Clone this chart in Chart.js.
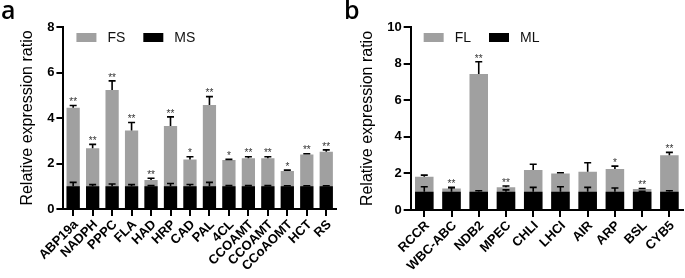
<!DOCTYPE html>
<html>
<head>
<meta charset="utf-8">
<script src="https://cdn.jsdelivr.net/npm/chart.js@4.4.0/dist/chart.umd.min.js"></script>
<style>
  body { margin: 0; width: 685px; height: 278px; background: #fff; position: relative; overflow: hidden; }
  .panel { position: absolute; top: 0; height: 278px; }
  #panelA { left: 0; width: 340px; }
  #panelB { left: 340px; width: 345px; }
  .tag { position: absolute; top: -8px; font-family: 'Open Sans', sans-serif; font-size: 25px; font-weight: 600; color: #000; }
</style>
</head>
<body>
<div class="panel" id="panelA"><canvas id="chartA" width="340" height="278"></canvas></div>
<div class="panel" id="panelB"><canvas id="chartB" width="345" height="278"></canvas></div>
<div class="tag" style="left:1px">a</div>
<div class="tag" style="left:344px">b</div>
<script>
// panel a
const genesA = ['ABP19a', 'NADPH', 'PPPC', 'FLA', 'HAD', 'HRP', 'CAD', 'PAL', '4CL', 'CCOAMT', 'CCOAMT', 'CCoAOMT', 'HCT', 'RS'];
const fsValues = [4.45, 2.67, 5.23, 3.45, 1.28, 3.65, 2.18, 4.57, 2.15, 2.23, 2.23, 1.67, 2.40, 2.52];
const fsErrors = [0.10, 0.17, 0.40, 0.35, 0.07, 0.40, 0.12, 0.37, 0.03, 0.07, 0.07, 0.04, 0.03, 0.08];
const msValues = [1, 1, 1, 1, 1, 1, 1, 1, 1, 1, 1, 1, 1, 1];
const msErrors = [0.17, 0.07, 0.10, 0.07, 0.03, 0.12, 0.08, 0.17, 0.03, 0.03, 0.03, 0.02, 0.02, 0.02];
const signifA = ['**', '**', '**', '**', '**', '**', '*', '**', '*', '**', '**', '*', '**', '**'];
const ticksA = { max: 8, step: 2 };

// panel b
const genesB = ['RCCR', 'WBC-ABC', 'NDB2', 'MPEC', 'CHLI', 'LHCI', 'AIR', 'ARP', 'BSL', 'CYB5'];
const flValues = [1.82, 1.18, 7.43, 1.24, 2.19, 2.00, 2.09, 2.24, 1.15, 3.00];
const flErrors = [0.09, 0.06, 0.67, 0.07, 0.31, 0.04, 0.49, 0.16, 0.03, 0.15];
const mlValues = [1, 1, 1, 1, 1, 1, 1, 1, 1, 1];
const mlErrors = [0.27, 0.22, 0.05, 0.10, 0.24, 0.27, 0.24, 0.20, 0.02, 0.05];
const signifB = ['', '**', '**', '**', '', '', '', '*', '**', '**'];
const ticksB = { max: 10, step: 2 };

const GRAY = '#a0a0a0';
const FONT = "'Liberation Sans', Arial, sans-serif";

// error bars (upper half only) + significance stars
const errorBars = {
    id: 'errorBars',
    afterDatasetsDraw(chart) {
        const ctx = chart.ctx;
        const yScale = chart.scales.y;
        ctx.save();
        chart.data.datasets.forEach((ds, i) => {
            const meta = chart.getDatasetMeta(i);
            meta.data.forEach((bar, j) => {
                const top = yScale.getPixelForValue(ds.data[j] + ds.errors[j]);
                ctx.strokeStyle = '#000';
                ctx.lineWidth = 1.6;
                ctx.beginPath();
                ctx.moveTo(bar.x, bar.y);
                ctx.lineTo(bar.x, top);
                ctx.moveTo(bar.x - 3.5, top);
                ctx.lineTo(bar.x + 3.5, top);
                ctx.stroke();
                if (ds.signif && ds.signif[j]) {
                    ctx.fillStyle = '#333';
                    ctx.font = '10px ' + FONT;
                    ctx.textAlign = 'center';
                    ctx.textBaseline = 'bottom';
                    ctx.fillText(ds.signif[j], bar.x, top + 2);
                }
            });
        });
        ctx.restore();
    }
};

// legend drawn inside the plot area, in dataset order
const innerLegend = {
    id: 'innerLegend',
    afterDraw(chart) {
        const ctx = chart.ctx;
        const area = chart.chartArea;
        let x = area.left + 13;
        const y = area.top + 6;
        ctx.save();
        ctx.font = '14px ' + FONT;
        ctx.textBaseline = 'middle';
        ctx.textAlign = 'left';
        chart.data.datasets.forEach(ds => {
            ctx.fillStyle = ds.backgroundColor;
            ctx.fillRect(x, y, 20, 9);
            ctx.fillStyle = '#111';
            ctx.fillText(ds.label, x + 31, y + 5);
            x += 31 + ctx.measureText(ds.label).width + 18;
        });
        ctx.restore();
    }
};

function axisStyle() {
    return {
        drawOnChartArea: false,
        offset: false,
        color: '#000',
        lineWidth: 2,
        tickLength: 7
    };
}

function barChart(id, labels, sets, range, padding) {
    const ctx = document.getElementById(id).getContext('2d');
    return new Chart(ctx, {
        type: 'bar',
        data: {
            labels: labels,
            datasets: [
                {
                    label: sets[0].label,
                    data: sets[0].values,
                    errors: sets[0].errors,
                    signif: sets[0].signif,
                    backgroundColor: GRAY,
                    order: 1,
                    grouped: false,
                    barPercentage: 0.68,
                    categoryPercentage: 1
                },
                {
                    label: sets[1].label,
                    data: sets[1].values,
                    errors: sets[1].errors,
                    backgroundColor: '#000',
                    order: 0,
                    grouped: false,
                    barPercentage: 0.68,
                    categoryPercentage: 1
                }
            ]
        },
        options: {
            responsive: false,
            animation: false,
            layout: { padding: padding },
            plugins: {
                legend: { display: false },
                tooltip: { enabled: false }
            },
            scales: {
                x: {
                    offset: true,
                    grid: axisStyle(),
                    border: { color: '#000', width: 2 },
                    ticks: {
                        color: '#000',
                        autoSkip: false,
                        maxRotation: 45,
                        minRotation: 45,
                        padding: 1,
                        labelOffset: 3,
                        font: { family: FONT, size: 13, weight: 'bold' }
                    }
                },
                y: {
                    min: 0,
                    max: range.max,
                    grid: axisStyle(),
                    border: { color: '#000', width: 2 },
                    ticks: {
                        stepSize: range.step,
                        color: '#000',
                        padding: 2,
                        font: { family: FONT, size: 13, weight: 'bold' }
                    },
                    title: {
                        display: true,
                        text: 'Relative expression ratio',
                        color: '#000',
                        padding: { top: 0, bottom: 8 },
                        font: { family: FONT, size: 16 }
                    }
                }
            }
        },
        plugins: [errorBars, innerLegend]
    });
}

barChart('chartA', genesA, [
    { label: 'FS', values: fsValues, errors: fsErrors, signif: signifA },
    { label: 'MS', values: msValues, errors: msErrors }
], ticksA, { left: 18, top: 27, right: 4, bottom: 3 });

barChart('chartB', genesB, [
    { label: 'FL', values: flValues, errors: flErrors, signif: signifB },
    { label: 'ML', values: mlValues, errors: mlErrors }
], ticksB, { left: 18, top: 27, right: 2, bottom: 3 });
</script>
</body>
</html>
